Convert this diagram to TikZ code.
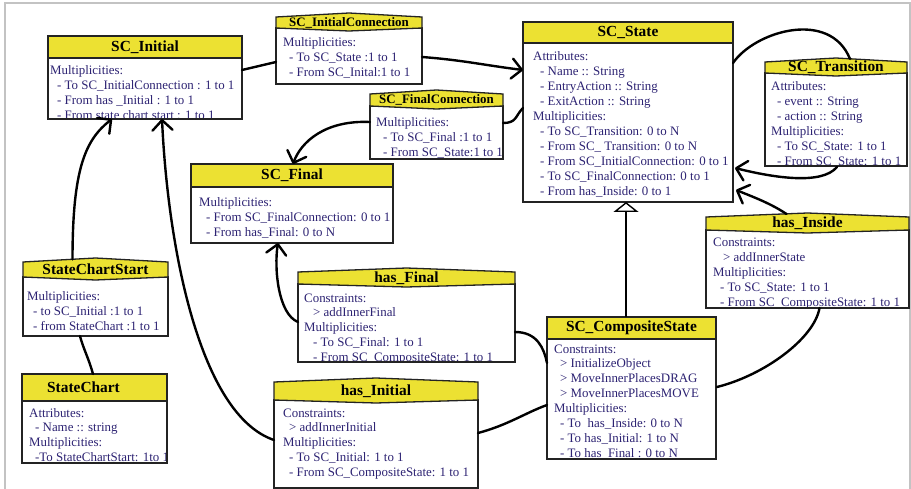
\documentclass[tikz,border=0pt]{standalone}
\usepackage{fontspec}
\setmainfont{Liberation Serif}
\usetikzlibrary{arrows.meta,calc,fit}
\definecolor{hdryellow}{RGB}{236,225,50}
\definecolor{txtblue}{RGB}{45,35,115}
\definecolor{boxline}{RGB}{35,35,35}
\definecolor{framegray}{RGB}{195,195,195}

\tikzset{
 bodyst/.style={fill=white, draw=boxline, line width=1.3pt},
 hdrst/.style={fill=hdryellow, draw=boxline, line width=1.3pt, line join=miter},
 ttl/.style={font=\bfseries\fontsize{15.4}{17}\selectfont, text=black, inner sep=0pt},
 ttlsmall/.style={font=\bfseries\fontsize{12.9}{15}\selectfont, text=black, inner sep=0pt},
 txt/.style={font=\fontsize{12.9}{14.9}\selectfont, text=txtblue, inner sep=0pt, anchor=base west},
 conn/.style={draw=black, line width=2.4pt, line cap=round},
 arr/.style={conn, -{Straight Barb[round,length=10pt,width=20pt]}},
 inh/.style={draw=black, line width=2.2pt, -{Triangle[open,length=10pt,width=25pt,line width=1.4pt]}},
 boxfit/.style={inner sep=0pt, outer sep=0pt}
}

\newcommand\indd[1][7]{\hspace*{#1pt}}

% name, x1, top, x2, header bottom, bottom, title style, title
\newcommand\classbox[8]{%
 \node[boxfit, fit={(#2,#3)(#4,#6)}] (#1) {};
 \filldraw[bodyst] (#2,#5) rectangle (#4,#6);
 \filldraw[hdrst] (#2,#3) rectangle (#4,#5);
 \node[#7] (#1-title) at ({(#2+#4)/2},{(#3+#5)/2}) {#8};
 \def\bxa{#2}\def\bxb{#4}\def\bhb{#5}\def\bbot{#6}}

\newcommand\relbox[8]{%
 \node[boxfit, fit={(#2,#3)(#4,#6)}] (#1) {};
 \filldraw[bodyst] (#2,#5) rectangle (#4,#6);
 \filldraw[hdrst] (#2,#3+4) -- ({(#2+#4)/2},#3) -- (#4,#3+4) -- (#4,#5) -- ({(#2+#4)/2},#5+3) -- (#2,#5) -- cycle;
 \node[#7] (#1-title) at ({(#2+#4)/2},{(#3+#5)/2+2}) {#8};
 \def\bxa{#2}\def\bxb{#4}\def\bhb{#5}\def\bbot{#6}}

% name, position, lines
\newcommand\boxtext[3]{%
 \begin{scope}
 \clip (\bxa,\bhb) rectangle (\bxb,\bbot);
 \node[txt] (#1) at #2 {\begin{tabular}[t]{@{}l@{}}#3\end{tabular}};
 \end{scope}
 \draw[boxline, line width=1.3pt] (\bxa,\bhb) -- (\bxa,\bbot) -- (\bxb,\bbot) -- (\bxb,\bhb);}

\begin{document}
\begin{tikzpicture}[x=1pt,y=-1pt]
\useasboundingbox (0,0) rectangle (911,489);
\draw[framegray, line width=2pt] (4.5,489) -- (4.5,3.5) -- (909.5,3.5) -- (909.5,489);

% SC_Initial
\classbox{ini}{48}{36}{242}{58}{119}{ttl}{SC\_Initial}
\boxtext{ini-t}{(50,75)}{Multiplicities:\\
\indd- To SC\_InitialConnection : 1 to 1\\
\indd- From has \_Initial : 1 to 1\\
\indd- From state chart start : 1 to 1}

% SC_InitialConnection
\relbox{icon}{276}{13}{422}{28}{84}{ttlsmall}{SC\_InitialConnection}
\boxtext{icon-t}{(283,47)}{Multiplicities:\\
\indd[6]- To SC\_State :1 to 1\\
\indd[6]- From SC\_Inital:1 to 1}

% SC_FinalConnection
\relbox{fcon}{370}{90}{503}{106}{159}{ttlsmall}{SC\_FinalConnection}
\boxtext{fcon-t}{(376,127)}{Multiplicities:\\
\indd- To SC\_Final :1 to 1\\
\indd- From SC\_State:1 to 1}

% SC_State
\classbox{state}{523}{22}{733}{43}{202}{ttl}{SC\_State}
\boxtext{state-t}{(533,61)}{Attributes:\\
\indd- Name :: String\\
\indd- EntryAction :: String\\
\indd- ExitAction :: String\\
Multiplicities:\\
\indd- To SC\_Transition: 0 to N\\
\indd- From SC\_ Transition: 0 to N\\
\indd- From SC\_InitialConnection: 0 to 1\\
\indd- To SC\_FinalConnection: 0 to 1\\
\indd- From has\_Inside: 0 to 1}

% SC_Transition
\relbox{trans}{765}{58}{907}{73}{166}{ttl}{SC\_Transition}
\boxtext{trans-t}{(771,91)}{Attributes:\\
\indd[6]- event :: String\\
\indd[6]- action :: String\\
Multiplicities:\\
\indd[6]- To SC\_State: 1 to 1\\
\indd[6]- From SC\_State: 1 to 1}

% SC_Final
\classbox{final}{191}{164}{393}{187}{243}{ttl}{SC\_Final}
\boxtext{final-t}{(199,207)}{Multiplicities:\\
\indd- From SC\_FinalConnection: 0 to 1\\
\indd- From has\_Final: 0 to N}

% StateChartStart
\relbox{scs}{23}{258}{168}{277}{336}{ttl}{StateChartStart}
\boxtext{scs-t}{(27,301)}{Multiplicities:\\
\indd[6]- to SC\_Initial :1 to 1\\
\indd[6]- from StateChart :1 to 1}

% StateChart
\classbox{sc}{22}{374}{167}{401}{463}{ttl, xshift=-11pt}{StateChart}
\boxtext{sc-t}{(29,417)}{Attributes:\\
\indd[6]- Name :: string\\
Multiplicities:\\
\indd[6]-To StateChartStart: 1to 1}

% has_Final
\relbox{hfin}{298}{268}{515}{284}{362}{ttl}{has\_Final}
\boxtext{hfin-t}{(304,302)}{Constraints:\\
\indd[9]> addInnerFinal\\
Multiplicities:\\
\indd[9]- To SC\_Final: 1 to 1\\
\indd[9]- From SC\_CompositeState: 1 to 1}

% has_Initial
\relbox{hini}{274}{378}{478}{400}{488}{ttl}{has\_Initial}
\boxtext{hini-t}{(283,417)}{Constraints:\\
\indd[6]> addInnerInitial\\
Multiplicities:\\
\indd[6]- To SC\_Initial: 1 to 1\\
\indd[6]- From SC\_CompositeState: 1 to 1}

% SC_CompositeState
\classbox{comp}{547}{317}{716}{339}{459}{ttl}{SC\_CompositeState}
\boxtext{comp-t}{(554,353)}{Constraints:\\
\indd[6]> InitializeObject\\
\indd[6]> MoveInnerPlacesDRAG\\
\indd[6]> MoveInnerPlacesMOVE\\
Multiplicities:\\
\indd[6]- To~ has\_Inside: 0 to N\\
\indd[6]- To has\_Initial: 1 to N\\
\indd[6]- To has\_Final : 0 to N}

% has_Inside
\relbox{hins}{706}{213}{909}{230}{308}{ttl}{has\_Inside}
\boxtext{hins-t}{(713,247)}{Constraints:\\
\indd[10]> addInnerState\\
Multiplicities:\\
\indd- To SC\_State: 1 to 1\\
\indd- From SC\_CompositeState: 1 to 1}

% connectors
\draw[conn] ($(ini.north east)+(0,34)$) -- ($(icon.north west)+(0,49)$);
\draw[arr] ($(icon.north east)+(0,44)$) .. controls +(40,3) and +(-40,-5) .. ($(state.north west)+(0,48)$);
\draw[arr] ($(fcon.north west)+(0,32)$) .. controls +(-45,-2) and +(8,-22) .. ($(final.north west)+(102,0)$);
\draw[conn] ($(fcon.north east)+(0,33)$) .. controls +(14,0) and +(-8,8) .. ($(state.north west)+(0,86)$);
\draw[conn] ($(state.north east)+(0,41)$) .. controls +(22,-32) and +(-20,-50) .. ($(trans.north)+(14,1)$);
\draw[arr] ($(trans.south)+(1,1)$) .. controls +(-15,18) and +(40,10) .. ($(state.north east)+(2,146)$);
\draw[arr] ($(hins.north)+(-21,1)$) .. controls +(-15,-10) and +(20,8) .. ($(state.north east)+(3,168)$);
\draw[inh] ($(comp.north)+(-5.5,0)$) -- ($(state.south)+(-2,0)$);
\draw[conn] ($(hins.south)+(12,0)$) .. controls +(-5,30) and +(48,-12) .. ($(comp.north east)+(1,70)$);
\draw[conn] ($(hfin.north east)+(0,64)$) .. controls +(22,0) and +(-3,-15) .. ($(comp.north west)+(0,46)$);
\draw[conn] ($(hini.north east)+(0,55)$) .. controls +(30,-8) and +(-22,8) .. ($(comp.north west)+(0,88)$);
\draw[arr] ($(hfin.north west)+(0,54)$) .. controls +(-20,-8) and +(-4,25) .. ($(final.south west)+(87,0)$);
\draw[arr] ($(hini.north west)+(0,62)$) .. controls +(-74,-25) and +(6,130) .. ($(ini.south west)+(114,0)$);
\draw[arr] ($(scs.north)+(-23,1.5)$) .. controls +(0,-90) and +(-27,21) .. ($(ini.south west)+(64,0)$);
\draw[conn] ($(sc.north west)+(71,0)$) .. controls +(-4,-15) and +(3,12) .. ($(scs.south west)+(57,0)$);
\end{tikzpicture}
\end{document}
